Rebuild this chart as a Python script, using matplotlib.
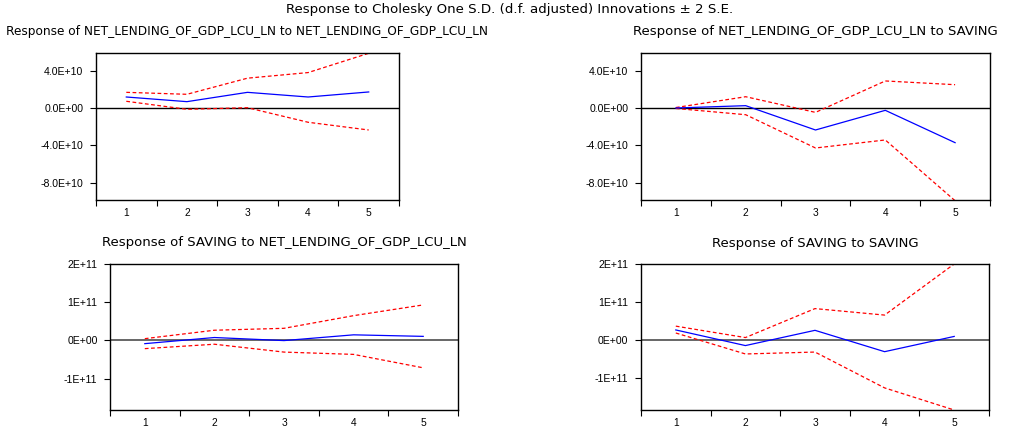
import numpy as np
import matplotlib.pyplot as plt
from matplotlib.ticker import FixedLocator, NullFormatter

plt.rcParams['font.family'] = ['Liberation Sans', 'DejaVu Sans']

# ---------------- #

periods = [1, 2, 3, 4, 5]

# impulse responses and +/- 2 S.E. bands
nl_nl      = [1.18e10, 0.68e10, 1.68e10, 1.18e10, 1.72e10]
nl_nl_up   = [1.68e10, 1.47e10, 3.20e10, 3.80e10, 5.87e10]
nl_nl_lo   = [0.72e10, -0.14e10, 0.03e10, -1.53e10, -2.36e10]

nl_sav     = [0.0, 0.25e10, -2.36e10, -0.25e10, -3.72e10]
nl_sav_up  = [0.05e10, 1.21e10, -0.47e10, 2.90e10, 2.50e10]
nl_sav_lo  = [-0.05e10, -0.72e10, -4.29e10, -3.43e10, -9.95e10]

sav_nl     = [-0.09e11, 0.07e11, -0.01e11, 0.14e11, 0.10e11]
sav_nl_up  = [0.04e11, 0.26e11, 0.31e11, 0.64e11, 0.92e11]
sav_nl_lo  = [-0.22e11, -0.105e11, -0.31e11, -0.37e11, -0.72e11]

sav_sav    = [0.27e11, -0.14e11, 0.26e11, -0.30e11, 0.10e11]
sav_sav_up = [0.37e11, 0.07e11, 0.83e11, 0.66e11, 2.00e11]
sav_sav_lo = [0.19e11, -0.36e11, -0.31e11, -1.25e11, -1.83e11]

top_ticks = [4e10, 0, -4e10, -8e10]
top_labels = ['4.0E+10', '0.0E+00', '-4.0E+10', '-8.0E+10']
bot_ticks = [2e11, 1e11, 0, -1e11]
bot_labels = ['2E+11', '1E+11', '0E+00', '-1E+11']

titles = ['Response of NET_LENDING_OF_GDP_LCU_LN to NET_LENDING_OF_GDP_LCU_LN',
          'Response of NET_LENDING_OF_GDP_LCU_LN to SAVING',
          'Response of SAVING to NET_LENDING_OF_GDP_LCU_LN',
          'Response of SAVING to SAVING']
title_sizes = [8.7, 9.5, 9.5, 9.5]

# ---------------- #

W, H = 1020, 428
fig = plt.figure(figsize=(W / 100, H / 100), dpi=100)


def box(x0, y0, x1, y1):
    # pixel box (top-left origin) -> figure fractions
    return [x0 / W, 1 - y1 / H, (x1 - x0) / W, (y1 - y0) / H]


panels = [
    (box(96, 53, 399, 200), nl_nl, nl_nl_up, nl_nl_lo, (-9.87e10, 5.9e10), top_ticks, top_labels, 'black', 1.0),
    (box(641, 53, 990, 200), nl_sav, nl_sav_up, nl_sav_lo, (-9.87e10, 5.9e10), top_ticks, top_labels, 'black', 1.0),
    (box(110, 263.5, 458, 410), sav_nl, sav_nl_up, sav_nl_lo, (-1.82e11, 2.0e11), bot_ticks, bot_labels, '#666666', 1.4),
    (box(641, 264, 989, 410), sav_sav, sav_sav_up, sav_sav_lo, (-1.83e11, 2.0e11), bot_ticks, bot_labels, '#666666', 1.4),
]

for (rect, resp, up, lo, ylim, yt, yl, zc, zw), title, ts in zip(panels, titles, title_sizes):
    ax = fig.add_axes(rect)
    ax.axhline(0, color=zc, lw=zw, zorder=1)
    ax.plot(periods, up, color='red', ls=(0, (3, 2)), lw=0.9)
    ax.plot(periods, lo, color='red', ls=(0, (3, 2)), lw=0.9)
    ax.plot(periods, resp, color='blue', lw=0.9)
    ax.set_xlim(0.5, 5.5)
    ax.set_ylim(*ylim)

    # ticks between periods, labels on the periods
    ax.xaxis.set_major_locator(FixedLocator(np.arange(0.5, 6, 1)))
    ax.xaxis.set_major_formatter(NullFormatter())
    ax.xaxis.set_minor_locator(FixedLocator(periods))
    ax.set_xticklabels([str(p) for p in periods], minor=True)
    ax.tick_params(axis='x', which='major', direction='out', length=4, width=0.8)
    ax.tick_params(axis='x', which='minor', length=0, pad=6, labelsize=7.4)
    ax.set_yticks(yt)
    ax.set_yticklabels(yl)
    ax.tick_params(axis='y', direction='out', length=4, width=0.8, pad=5, labelsize=7.6)
    for s in ax.spines.values():
        s.set_linewidth(1.0)

    cx = rect[0] + rect[2] / 2
    ty = rect[1] + rect[3] + 21 / H
    fig.text(cx, ty, title, ha='center', va='center', fontsize=ts, family='DejaVu Sans')

fig.text(0.5, 1 - 9 / H, 'Response to Cholesky One S.D. (d.f. adjusted) Innovations \u00b1 2 S.E.',
         ha='center', va='center', fontsize=9.6, family='DejaVu Sans')

fig.savefig('out.png', dpi=100)
